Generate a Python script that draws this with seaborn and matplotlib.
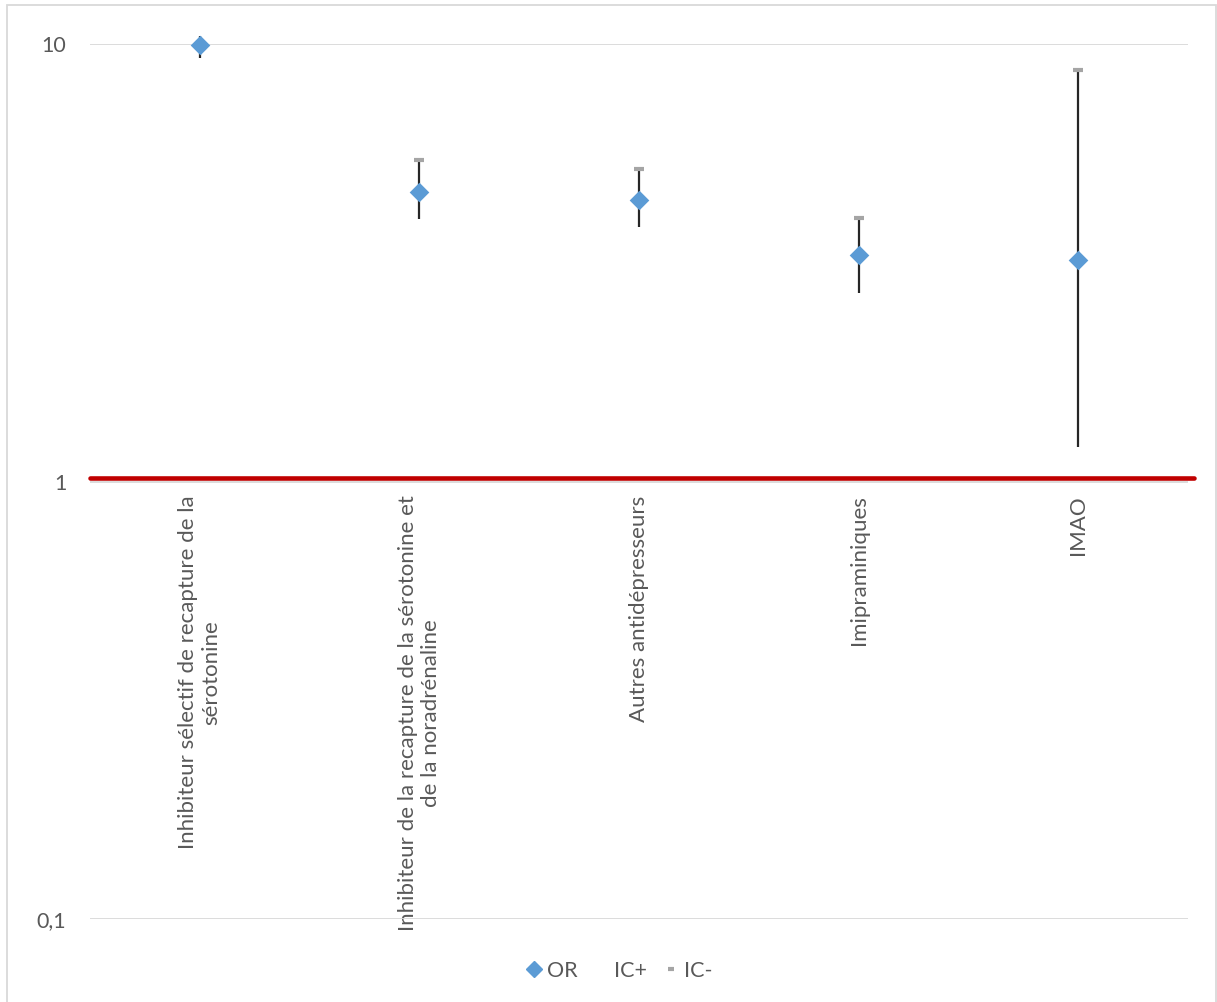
import matplotlib
matplotlib.use("Agg")
import matplotlib.pyplot as plt
import seaborn as sns
import pandas as pd
from matplotlib.lines import Line2D
from matplotlib.patches import Rectangle
from matplotlib.ticker import NullLocator

# Odds ratios per antidepressant class, with confidence bounds
categories = [
    "Inhibiteur sélectif de recapture de la\nsérotonine",
    "Inhibiteur de la recapture de la sérotonine et\nde la noradrénaline",
    "Autres antidépresseurs",
    "Imipraminiques",
    "IMAO",
]
odds_ratio = [9.95, 4.60, 4.41, 3.30, 3.20]
ic_high = [10.45, 5.42, 5.19, 4.01, 8.70]
ic_low = [9.27, 3.99, 3.81, 2.70, 1.20]

y_ticks = [0.1, 1, 10]
y_tick_labels = ["0,1", "1", "10"]
reference_or = 1.016

legend_labels = ["OR", "IC+", "IC-"]

sns.set_theme(style="white")
plt.rcParams["font.family"] = ["Lato", "DejaVu Sans"]

TEXT = "#595959"
BLUE = "#5B9BD5"
GRAY = "#A5A5A5"
GRID = "#D9D9D9"
RED = "#C00000"

W, H = 1217, 1002
fig = plt.figure(figsize=(W / 100, H / 100), dpi=100)
ax = fig.add_axes([90 / W, 1 - 919 / H, 1098 / W, 875 / H])

positions = list(range(len(categories)))
df = pd.DataFrame({"pos": positions, "OR": odds_ratio,
                   "high": ic_high, "low": ic_low})

# confidence interval lines
ax.vlines(df["pos"], df["low"], df["high"], colors="#262626",
          linewidth=1.6, zorder=3, clip_on=False)
# upper-bound markers
ax.plot(df["pos"], df["high"], linestyle="none", marker="_",
        color=GRAY, markersize=7, markeredgewidth=3, zorder=4)
# odds ratio points
sns.scatterplot(data=df, x="pos", y="OR", marker="D", s=100,
                color=BLUE, edgecolor=BLUE, linewidth=0, zorder=5,
                clip_on=False, ax=ax)

# reference line at OR = 1
ax.axhline(reference_or, xmin=0, xmax=1.0055, color=RED,
           linewidth=3.3, zorder=2, clip_on=False)

ax.set_yscale("log")
ax.set_ylim(0.1, 10)
ax.set_xlim(-0.5, len(categories) - 0.5)
ax.set_yticks(y_ticks)
ax.set_yticklabels(y_tick_labels)
ax.yaxis.set_minor_locator(NullLocator())
ax.set_xlabel("")
ax.set_ylabel("")

ax.yaxis.grid(True, color=GRID, linewidth=1.3)
ax.xaxis.grid(False)
ax.set_axisbelow(True)

for s in ax.spines.values():
    s.set_visible(False)
# category axis crosses at OR = 1
ax.spines["bottom"].set_position(("data", 1))

ax.set_xticks(positions)
ax.set_xticklabels(categories, rotation=90, ha="center", va="top",
                   multialignment="center")
ax.tick_params(axis="x", length=0, pad=10, labelsize=16, labelcolor=TEXT)
ax.tick_params(axis="y", length=0, pad=17, labelsize=15.5, labelcolor=TEXT)

handles = [
    Line2D([], [], linestyle="none", marker="D", color=BLUE, markersize=8.5),
    Line2D([], [], linestyle="none"),
    Line2D([], [], linestyle="none", marker="_", color=GRAY,
           markersize=5, markeredgewidth=3),
]
fig.legend(handles, legend_labels, loc="center", ncol=3,
           bbox_to_anchor=(620 / W, 1 - 971 / H), frameon=False,
           fontsize=15.5, labelcolor=TEXT, handlelength=0.6,
           handletextpad=0.3, columnspacing=0.8)

# outer chart frame
fig.patches.append(Rectangle((7 / W, -0.01), (1215.5 - 7) / W,
                             1 - 5 / H + 0.01, transform=fig.transFigure,
                             fill=False, edgecolor=GRID, linewidth=1.3))

fig.savefig("out.png", dpi=100)
